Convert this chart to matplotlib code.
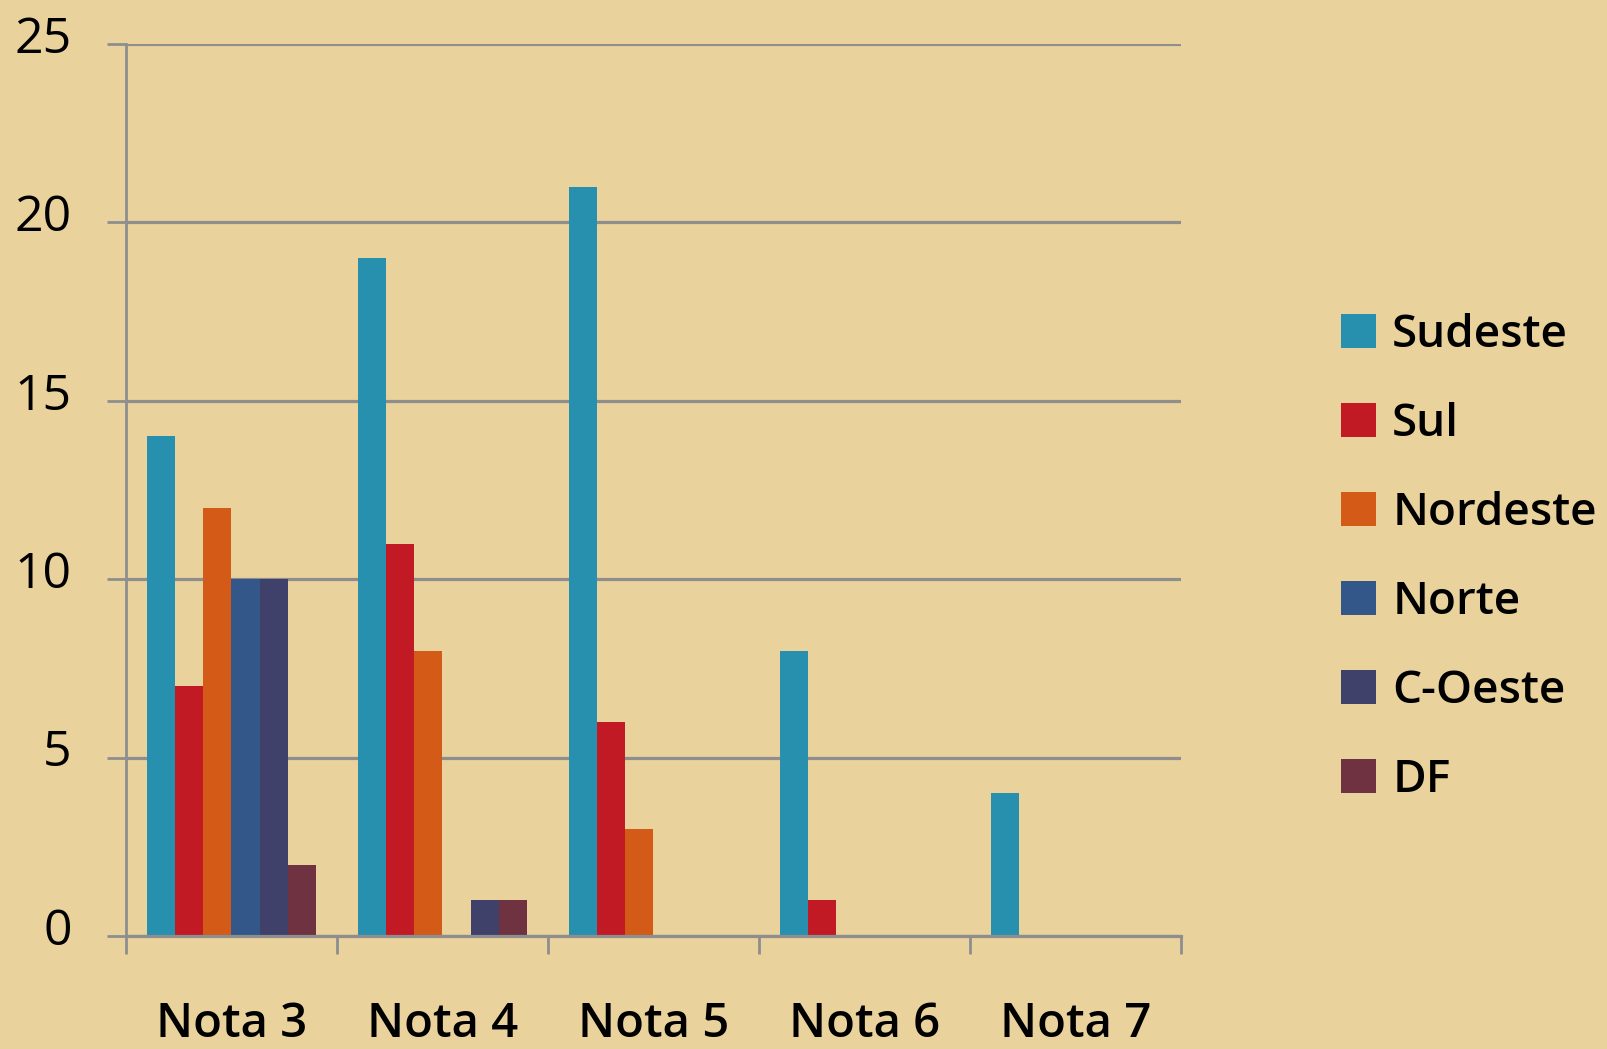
import matplotlib
matplotlib.use("Agg")
import matplotlib.pyplot as plt
import numpy as np
from matplotlib.transforms import ScaledTranslation
from matplotlib.patches import Patch

categories = ["Nota 3", "Nota 4", "Nota 5", "Nota 6", "Nota 7"]
series_names = ["Sudeste", "Sul", "Nordeste", "Norte", "C-Oeste", "DF"]
sudeste = [14, 19, 21, 8, 4]
sul = [7, 11, 6, 1, 0]
nordeste = [12, 8, 3, 0, 0]
norte = [10, 0, 0, 0, 0]
c_oeste = [10, 1, 0, 0, 0]
df = [2, 1, 0, 0, 0]
yticks = [0, 5, 10, 15, 20, 25]

colors = ["#2690AE", "#C21A25", "#D35A17", "#325788", "#3F416A", "#6E3240"]
series = [sudeste, sul, nordeste, norte, c_oeste, df]

plt.rcParams['font.family'] = ['Open Sans', 'DejaVu Sans']
bg = "#E9D29B"
fig = plt.figure(figsize=(16.08, 10.49), dpi=100, facecolor=bg)
ax = fig.add_axes([126/1608, 1 - 936/1049, (1181-126)/1608, (936-44)/1049])
ax.set_facecolor("none")

x = np.arange(len(categories))
n = len(series)
w = 0.8 / n
for i, (vals, c, name) in enumerate(zip(series, colors, series_names)):
    ax.bar(x - 0.4 + w/2 + i*w, vals, width=w, color=c, label=name, zorder=3)

grid_c = "#8E8E8E"
ax.set_ylim(0, 25)
ax.set_xlim(-0.5, len(categories) - 0.5)
ax.set_yticks(yticks)
ax.set_yticklabels([str(t) for t in yticks])
ax.yaxis.grid(True, color=grid_c, linewidth=2.3, zorder=1)
ax.tick_params(axis='y', length=14, width=2.0, color=grid_c, pad=25, labelsize=36, labelcolor='black')
for lab in ax.get_yticklabels():
    lab.set_fontweight('medium')
    lab.set_transform(lab.get_transform() + ScaledTranslation(0, 10/100, fig.dpi_scale_trans))

ax.set_xticks(x)
ax.set_xticklabels(categories, fontweight='semibold')
ax.set_xticks(np.arange(-0.5, len(categories)), minor=True)
ax.tick_params(axis='x', which='major', length=0, pad=47, labelsize=34, labelcolor='black')
ax.tick_params(axis='x', which='minor', length=13, width=2.0, color=grid_c)

for s in ['top', 'right']:
    ax.spines[s].set_visible(False)
ax.spines['left'].set_color(grid_c)
ax.spines['left'].set_linewidth(2.0)
ax.spines['bottom'].set_color(grid_c)
ax.spines['bottom'].set_linewidth(2.3)
ax.spines['bottom'].set_zorder(4)

handles = [Patch(facecolor=c, edgecolor='none') for c in colors]
fig.legend(handles, series_names, loc='upper left', bbox_to_anchor=(1323/1608, 1 - 295/1049),
           frameon=False, prop={'size': 33, 'weight': 'semibold'}, handlelength=0.76, handleheight=0.76,
           handletextpad=0.35, labelspacing=0.96, borderaxespad=0)

fig.savefig("out.png", dpi=100, facecolor=bg)
